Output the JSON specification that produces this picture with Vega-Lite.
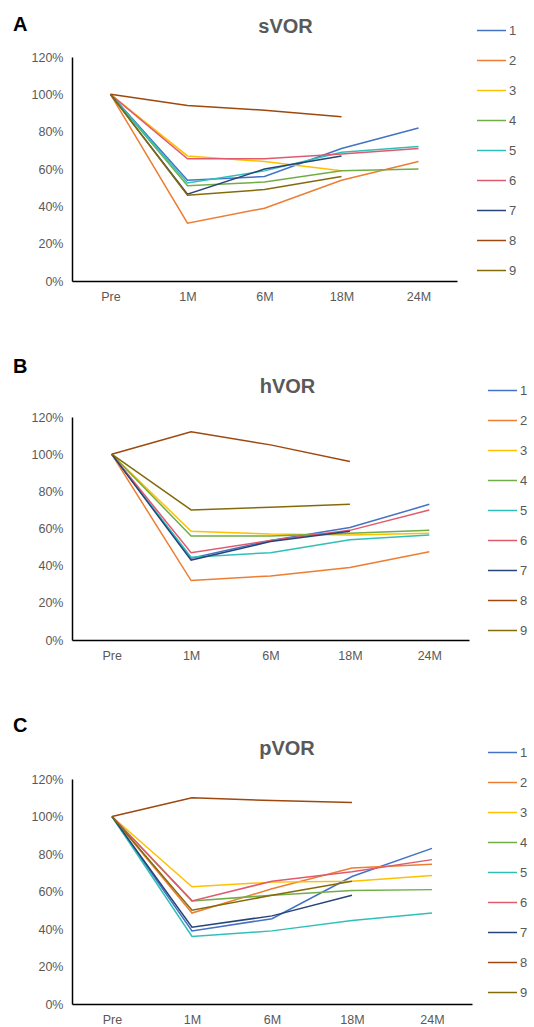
{
  "$schema": "https://vega.github.io/schema/vega-lite/v6.json",
  "background": "white",
  "padding": {"top": 15, "left": 13, "right": 5, "bottom": 5},
  "config": {
    "font": "Liberation Sans",
    "view": {"stroke": null},
    "axis": {"grid": false, "ticks": false, "domainColor": "#000000", "domainWidth": 1.5, "labelColor": "#595959", "labelFontSize": 12.5, "labelFont": "Liberation Sans", "title": null},
    "line": {"strokeWidth": 1.5}
  },
  "datasets": {
    "vor": [
      {"panel":"A","series":"1","time":"Pre","value":1.0},{"panel":"A","series":"1","time":"1M","value":0.54},{"panel":"A","series":"1","time":"6M","value":0.56},{"panel":"A","series":"1","time":"18M","value":0.71},{"panel":"A","series":"1","time":"24M","value":0.82},
      {"panel":"A","series":"2","time":"Pre","value":1.0},{"panel":"A","series":"2","time":"1M","value":0.31},{"panel":"A","series":"2","time":"6M","value":0.39},{"panel":"A","series":"2","time":"18M","value":0.54},{"panel":"A","series":"2","time":"24M","value":0.64},
      {"panel":"A","series":"3","time":"Pre","value":1.0},{"panel":"A","series":"3","time":"1M","value":0.67},{"panel":"A","series":"3","time":"6M","value":0.64},{"panel":"A","series":"3","time":"18M","value":0.59},
      {"panel":"A","series":"4","time":"Pre","value":1.0},{"panel":"A","series":"4","time":"1M","value":0.51},{"panel":"A","series":"4","time":"6M","value":0.53},{"panel":"A","series":"4","time":"18M","value":0.59},{"panel":"A","series":"4","time":"24M","value":0.60},
      {"panel":"A","series":"5","time":"Pre","value":1.0},{"panel":"A","series":"5","time":"1M","value":0.525},{"panel":"A","series":"5","time":"6M","value":0.59},{"panel":"A","series":"5","time":"18M","value":0.69},{"panel":"A","series":"5","time":"24M","value":0.72},
      {"panel":"A","series":"6","time":"Pre","value":1.0},{"panel":"A","series":"6","time":"1M","value":0.655},{"panel":"A","series":"6","time":"6M","value":0.655},{"panel":"A","series":"6","time":"18M","value":0.68},{"panel":"A","series":"6","time":"24M","value":0.71},
      {"panel":"A","series":"7","time":"Pre","value":1.0},{"panel":"A","series":"7","time":"1M","value":0.465},{"panel":"A","series":"7","time":"6M","value":0.60},{"panel":"A","series":"7","time":"18M","value":0.67},
      {"panel":"A","series":"8","time":"Pre","value":1.0},{"panel":"A","series":"8","time":"1M","value":0.94},{"panel":"A","series":"8","time":"6M","value":0.915},{"panel":"A","series":"8","time":"18M","value":0.88},
      {"panel":"A","series":"9","time":"Pre","value":1.0},{"panel":"A","series":"9","time":"1M","value":0.46},{"panel":"A","series":"9","time":"6M","value":0.49},{"panel":"A","series":"9","time":"18M","value":0.56},

      {"panel":"B","series":"1","time":"Pre","value":1.0},{"panel":"B","series":"1","time":"1M","value":0.44},{"panel":"B","series":"1","time":"6M","value":0.535},{"panel":"B","series":"1","time":"18M","value":0.605},{"panel":"B","series":"1","time":"24M","value":0.73},
      {"panel":"B","series":"2","time":"Pre","value":1.0},{"panel":"B","series":"2","time":"1M","value":0.32},{"panel":"B","series":"2","time":"6M","value":0.345},{"panel":"B","series":"2","time":"18M","value":0.39},{"panel":"B","series":"2","time":"24M","value":0.475},
      {"panel":"B","series":"3","time":"Pre","value":1.0},{"panel":"B","series":"3","time":"1M","value":0.585},{"panel":"B","series":"3","time":"6M","value":0.57},{"panel":"B","series":"3","time":"18M","value":0.565},{"panel":"B","series":"3","time":"24M","value":0.575},
      {"panel":"B","series":"4","time":"Pre","value":1.0},{"panel":"B","series":"4","time":"1M","value":0.56},{"panel":"B","series":"4","time":"6M","value":0.56},{"panel":"B","series":"4","time":"18M","value":0.575},{"panel":"B","series":"4","time":"24M","value":0.59},
      {"panel":"B","series":"5","time":"Pre","value":1.0},{"panel":"B","series":"5","time":"1M","value":0.445},{"panel":"B","series":"5","time":"6M","value":0.47},{"panel":"B","series":"5","time":"18M","value":0.54},{"panel":"B","series":"5","time":"24M","value":0.565},
      {"panel":"B","series":"6","time":"Pre","value":1.0},{"panel":"B","series":"6","time":"1M","value":0.47},{"panel":"B","series":"6","time":"6M","value":0.535},{"panel":"B","series":"6","time":"18M","value":0.59},{"panel":"B","series":"6","time":"24M","value":0.70},
      {"panel":"B","series":"7","time":"Pre","value":1.0},{"panel":"B","series":"7","time":"1M","value":0.43},{"panel":"B","series":"7","time":"6M","value":0.53},{"panel":"B","series":"7","time":"18M","value":0.585},
      {"panel":"B","series":"8","time":"Pre","value":1.0},{"panel":"B","series":"8","time":"1M","value":1.12},{"panel":"B","series":"8","time":"6M","value":1.05},{"panel":"B","series":"8","time":"18M","value":0.96},
      {"panel":"B","series":"9","time":"Pre","value":1.0},{"panel":"B","series":"9","time":"1M","value":0.70},{"panel":"B","series":"9","time":"6M","value":0.715},{"panel":"B","series":"9","time":"18M","value":0.73},

      {"panel":"C","series":"1","time":"Pre","value":1.0},{"panel":"C","series":"1","time":"1M","value":0.39},{"panel":"C","series":"1","time":"6M","value":0.455},{"panel":"C","series":"1","time":"18M","value":0.68},{"panel":"C","series":"1","time":"24M","value":0.83},
      {"panel":"C","series":"2","time":"Pre","value":1.0},{"panel":"C","series":"2","time":"1M","value":0.485},{"panel":"C","series":"2","time":"6M","value":0.615},{"panel":"C","series":"2","time":"18M","value":0.725},{"panel":"C","series":"2","time":"24M","value":0.745},
      {"panel":"C","series":"3","time":"Pre","value":1.0},{"panel":"C","series":"3","time":"1M","value":0.625},{"panel":"C","series":"3","time":"6M","value":0.65},{"panel":"C","series":"3","time":"18M","value":0.655},{"panel":"C","series":"3","time":"24M","value":0.685},
      {"panel":"C","series":"4","time":"Pre","value":1.0},{"panel":"C","series":"4","time":"1M","value":0.55},{"panel":"C","series":"4","time":"6M","value":0.58},{"panel":"C","series":"4","time":"18M","value":0.605},{"panel":"C","series":"4","time":"24M","value":0.61},
      {"panel":"C","series":"5","time":"Pre","value":1.0},{"panel":"C","series":"5","time":"1M","value":0.36},{"panel":"C","series":"5","time":"6M","value":0.39},{"panel":"C","series":"5","time":"18M","value":0.445},{"panel":"C","series":"5","time":"24M","value":0.485},
      {"panel":"C","series":"6","time":"Pre","value":1.0},{"panel":"C","series":"6","time":"1M","value":0.55},{"panel":"C","series":"6","time":"6M","value":0.655},{"panel":"C","series":"6","time":"18M","value":0.705},{"panel":"C","series":"6","time":"24M","value":0.77},
      {"panel":"C","series":"7","time":"Pre","value":1.0},{"panel":"C","series":"7","time":"1M","value":0.41},{"panel":"C","series":"7","time":"6M","value":0.47},{"panel":"C","series":"7","time":"18M","value":0.58},
      {"panel":"C","series":"8","time":"Pre","value":1.0},{"panel":"C","series":"8","time":"1M","value":1.10},{"panel":"C","series":"8","time":"6M","value":1.085},{"panel":"C","series":"8","time":"18M","value":1.075},
      {"panel":"C","series":"9","time":"Pre","value":1.0},{"panel":"C","series":"9","time":"1M","value":0.50},{"panel":"C","series":"9","time":"6M","value":0.58},{"panel":"C","series":"9","time":"18M","value":0.655}
    ]
  },
  "spacing": 54,
  "resolve": {"legend": {"color": "independent"}},
  "vconcat": [
    {
      "title": {"text": "A", "anchor": "start", "fontSize": 20, "fontWeight": "bold", "color": "#000000", "dx": -18, "offset": -20},
      "resolve": {"legend": {"color": "independent"}},
      "vconcat": [
        {
          "title": {"text": "sVOR", "fontSize": 20, "fontWeight": "bold", "color": "#595959", "anchor": "middle", "dx": 21, "offset": -22},
          "width": 385, "height": 224,
          "data": {"name": "vor"},
          "transform": [{"filter": "datum.panel === 'A'"}],
          "mark": {"type": "line", "strokeWidth": 1.5},
          "encoding": {
            "x": {"field": "time", "type": "ordinal", "sort": ["Pre","1M","6M","18M","24M"], "scale": {"type": "point", "padding": 0.5}, "axis": {"labelAngle": 0, "labelPadding": 9}},
            "y": {"field": "value", "type": "quantitative", "scale": {"domain": [0, 1.2]}, "axis": {"values": [0,0.2,0.4,0.6,0.8,1.0,1.2], "format": ".0%", "labelPadding": 9}},
            "color": {"field": "series", "type": "nominal", "scale": {"domain": ["1","2","3","4","5","6","7","8","9"], "range": ["#4472C4","#ED7D31","#FFC000","#70AD47","#2EC0B8","#E05A6E","#264478","#9E480E","#846B0A"]},
              "legend": {"orient": "none", "legendX": 404, "legendY": -42, "title": null, "symbolType": "stroke", "symbolSize": 841, "symbolStrokeWidth": 2, "labelFontSize": 13, "labelColor": "#595959", "rowPadding": 7, "labelOffset": 2}}
          }
        }
      ]
    },
    {
      "title": {"text": "B", "anchor": "start", "fontSize": 20, "fontWeight": "bold", "color": "#000000", "dx": -18, "offset": -2},
      "resolve": {"legend": {"color": "independent"}},
      "vconcat": [
        {
          "title": {"text": "hVOR", "fontSize": 20, "fontWeight": "bold", "color": "#595959", "anchor": "middle", "dx": 17, "offset": -22},
          "width": 397, "height": 223,
          "data": {"name": "vor"},
          "transform": [{"filter": "datum.panel === 'B'"}],
          "mark": {"type": "line", "strokeWidth": 1.5},
          "encoding": {
            "x": {"field": "time", "type": "ordinal", "sort": ["Pre","1M","6M","18M","24M"], "scale": {"type": "point", "padding": 0.5}, "axis": {"labelAngle": 0, "labelPadding": 9}},
            "y": {"field": "value", "type": "quantitative", "scale": {"domain": [0, 1.2]}, "axis": {"values": [0,0.2,0.4,0.6,0.8,1.0,1.2], "format": ".0%", "labelPadding": 9}},
            "color": {"field": "series", "type": "nominal", "scale": {"domain": ["1","2","3","4","5","6","7","8","9"], "range": ["#4472C4","#ED7D31","#FFC000","#70AD47","#2EC0B8","#E05A6E","#264478","#9E480E","#846B0A"]},
              "legend": {"orient": "none", "legendX": 415, "legendY": -42, "title": null, "symbolType": "stroke", "symbolSize": 841, "symbolStrokeWidth": 2, "labelFontSize": 13, "labelColor": "#595959", "rowPadding": 7, "labelOffset": 2}}
          }
        }
      ]
    },
    {
      "title": {"text": "C", "anchor": "start", "fontSize": 20, "fontWeight": "bold", "color": "#000000", "dx": -18, "offset": 1},
      "resolve": {"legend": {"color": "independent"}},
      "vconcat": [
        {
          "title": {"text": "pVOR", "fontSize": 20, "fontWeight": "bold", "color": "#595959", "anchor": "middle", "dx": 15, "offset": -22},
          "width": 400, "height": 225,
          "data": {"name": "vor"},
          "transform": [{"filter": "datum.panel === 'C'"}],
          "mark": {"type": "line", "strokeWidth": 1.5},
          "encoding": {
            "x": {"field": "time", "type": "ordinal", "sort": ["Pre","1M","6M","18M","24M"], "scale": {"type": "point", "padding": 0.5}, "axis": {"labelAngle": 0, "labelPadding": 9}},
            "y": {"field": "value", "type": "quantitative", "scale": {"domain": [0, 1.2]}, "axis": {"values": [0,0.2,0.4,0.6,0.8,1.0,1.2], "format": ".0%", "labelPadding": 9}},
            "color": {"field": "series", "type": "nominal", "scale": {"domain": ["1","2","3","4","5","6","7","8","9"], "range": ["#4472C4","#ED7D31","#FFC000","#70AD47","#2EC0B8","#E05A6E","#264478","#9E480E","#846B0A"]},
              "legend": {"orient": "none", "legendX": 415, "legendY": -42, "title": null, "symbolType": "stroke", "symbolSize": 841, "symbolStrokeWidth": 2, "labelFontSize": 13, "labelColor": "#595959", "rowPadding": 7, "labelOffset": 2}}
          }
        }
      ]
    }
  ]
}
